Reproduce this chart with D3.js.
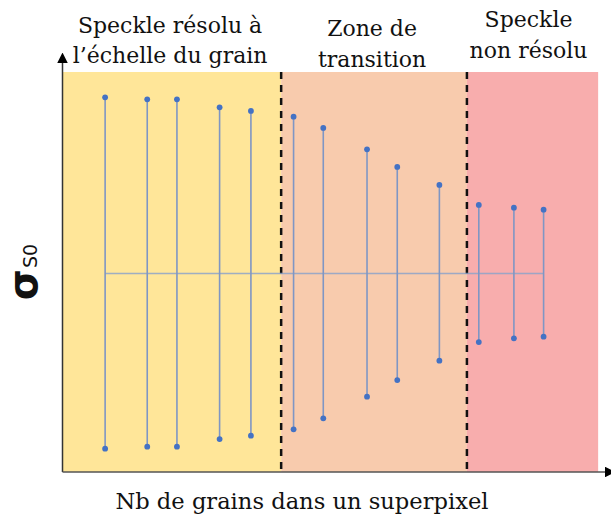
<!DOCTYPE html>
<html>
<head>
<meta charset="utf-8">
<script src="https://cdn.jsdelivr.net/npm/d3@7"></script>
<style>
  html, body { margin: 0; padding: 0; background: #fff; }
  svg { display: block; }
</style>
</head>
<body>
<svg id="chart" width="611" height="523"></svg>
<script>
// Number of grains per superpixel (arbitrary units) for each measurement
const grains = [7.8, 15.6, 21.1, 29.0, 34.8, 42.7, 48.2, 56.3, 61.9, 69.7, 77.0, 83.5, 89.0];
// Mean of σS0 (all centred on the same level) and the extents of each bar
const meanValue = [0, 0, 0, 0, 0, 0, 0, 0, 0, 0, 0, 0, 0];
const upperValue = [0.881, 0.871, 0.871, 0.831, 0.813, 0.784, 0.728, 0.621, 0.533, 0.443, 0.343, 0.329, 0.319];
const lowerValue = [-0.876, -0.866, -0.866, -0.828, -0.811, -0.779, -0.724, -0.616, -0.533, -0.436, -0.343, -0.324, -0.316];

// Regimes along the grain axis
const zoneNames = [["Speckle résolu à", "l’échelle du grain"], ["Zone de", "transition"], ["Speckle", "non résolu"]];
const zoneStart = [0, 40.4, 74.8];
const zoneEnd = [40.4, 74.8, 99.1];
const zoneColors = ["#ffe699", "#f8cbad", "#f8adad"];

const xTitle = "Nb de grains dans un superpixel";

const svg = d3.select("#chart");
const plotLeft = 63, plotRight = 603, plotTop = 72, plotBottom = 472;
const serif = "DejaVu Serif, serif";

const x = d3.scaleLinear().domain([0, 100]).range([plotLeft, plotRight]);
const y = d3.scaleLinear().domain([-1, 1]).range([473.5, 73.5]);

// Zone backgrounds
svg.append("g").selectAll("rect")
  .data(zoneStart)
  .join("rect")
  .attr("x", (d, i) => x(d))
  .attr("y", plotTop)
  .attr("width", (d, i) => x(zoneEnd[i]) - x(d))
  .attr("height", plotBottom - plotTop)
  .attr("fill", (d, i) => zoneColors[i]);

// Zone titles
const titleBase = [[33, 63], [36, 67], [27, 58]];
const titleShift = [-2, -2, -4];
zoneNames.forEach((lines, i) => {
  const cx = (x(zoneStart[i]) + x(zoneEnd[i])) / 2 + titleShift[i];
  const t = svg.append("text")
    .attr("text-anchor", "middle")
    .attr("font-family", serif)
    .attr("font-size", 22)
    .attr("fill", "#111");
  lines.forEach((s, j) => {
    t.append("tspan").attr("x", cx).attr("y", titleBase[i][j]).text(s);
  });
});

// Boundaries between zones
svg.append("g").selectAll("line")
  .data(zoneStart.slice(1))
  .join("line")
  .attr("x1", d => x(d)).attr("x2", d => x(d))
  .attr("y1", plotTop).attr("y2", plotBottom)
  .attr("stroke", "#111")
  .attr("stroke-width", 2.5)
  .attr("stroke-dasharray", "7,6");

// Horizontal mean line
svg.append("line")
  .attr("x1", x(grains[0])).attr("x2", x(grains[grains.length - 1]))
  .attr("y1", y(meanValue[0])).attr("y2", y(meanValue[0]))
  .attr("stroke", "#8ea3c9")
  .attr("stroke-opacity", 0.85)
  .attr("stroke-width", 1.5);

// Error bars
svg.append("g").selectAll("line")
  .data(grains)
  .join("line")
  .attr("x1", d => x(d)).attr("x2", d => x(d))
  .attr("y1", (d, i) => y(upperValue[i]))
  .attr("y2", (d, i) => y(lowerValue[i]))
  .attr("stroke", "#7f96c4")
  .attr("stroke-width", 1.6);

// End markers
const ends = grains.flatMap((g, i) => [[g, upperValue[i]], [g, lowerValue[i]]]);
svg.append("g").selectAll("circle")
  .data(ends)
  .join("circle")
  .attr("cx", d => x(d[0]))
  .attr("cy", d => y(d[1]))
  .attr("r", 2.9)
  .attr("fill", "#4472c4");

// Axes with arrow heads
svg.append("defs").append("marker")
  .attr("id", "arrow")
  .attr("viewBox", "0 0 10 10")
  .attr("refX", 0).attr("refY", 5)
  .attr("markerWidth", 7).attr("markerHeight", 7)
  .attr("markerUnits", "strokeWidth")
  .attr("orient", "auto")
  .append("path")
  .attr("d", "M0,0 L10,5 L0,10 Z")
  .attr("fill", "#000");

svg.append("line")
  .attr("x1", 62.5).attr("y1", plotBottom)
  .attr("x2", 62.5).attr("y2", 63)
  .attr("stroke", "#333").attr("stroke-width", 1.5)
  .attr("marker-end", "url(#arrow)");

svg.append("line")
  .attr("x1", 62.5).attr("y1", plotBottom)
  .attr("x2", 605).attr("y2", plotBottom)
  .attr("stroke", "#555").attr("stroke-width", 1.5)
  .attr("marker-end", "url(#arrow)");

// Axis titles
svg.append("text")
  .attr("x", 302).attr("y", 509)
  .attr("text-anchor", "middle")
  .attr("font-family", serif)
  .attr("font-size", 22.6)
  .attr("fill", "#111")
  .text(xTitle);

const yt = svg.append("text")
  .attr("transform", "translate(37,272) rotate(-90)")
  .attr("text-anchor", "middle")
  .attr("font-family", "DejaVu Sans, sans-serif")
  .attr("fill", "#111");
yt.append("tspan").attr("font-size", 40).attr("font-weight", "bold").text("σ");
yt.append("tspan").attr("font-size", 19).attr("dx", 1).text("S0");
</script>
</body>
</html>
